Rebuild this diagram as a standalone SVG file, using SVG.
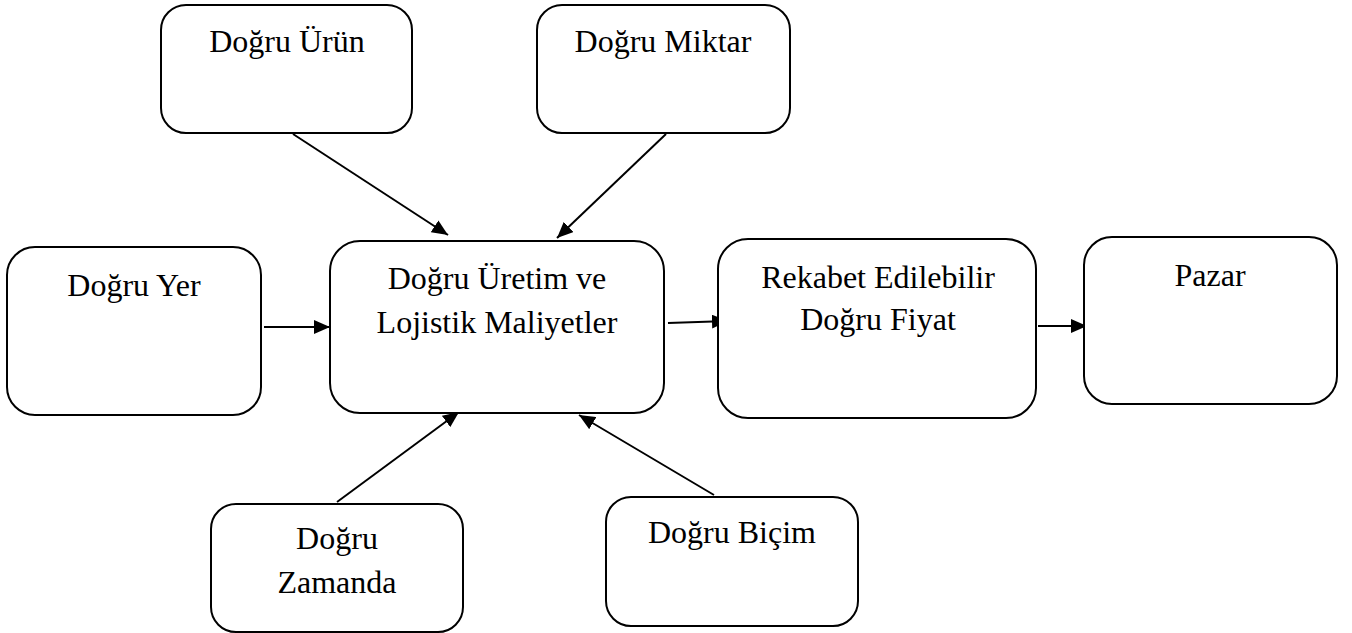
<svg xmlns="http://www.w3.org/2000/svg" width="1352" height="633" viewBox="0 0 1352 633">
<style>
.box{fill:#fff;stroke:#000;stroke-width:2}
.t{font-family:'Liberation Serif','DejaVu Serif',serif;font-size:32px;fill:#000;text-anchor:middle}
.c{stroke:#000;stroke-width:2;fill:none;marker-end:url(#ah)}
</style>
<defs>
<marker id="ah" viewBox="0 0 16 14" refX="16" refY="7" markerWidth="16" markerHeight="14" markerUnits="userSpaceOnUse" orient="auto">
<path d="M0,0 L16,7 L0,14 Z" fill="#000"/>
</marker>
</defs>
<rect width="1352" height="633" fill="#fff"/>
<g id="connectors">
<line class="c" x1="293" y1="134" x2="448" y2="235"/>
<line class="c" x1="666" y1="134" x2="557" y2="238"/>
<line class="c" x1="264" y1="327" x2="330" y2="327"/>
<line class="c" x1="668" y1="323" x2="728" y2="321"/>
<line class="c" x1="1038" y1="326" x2="1087" y2="326"/>
<line class="c" x1="337" y1="502" x2="459" y2="412"/>
<line class="c" x1="714" y1="495" x2="579" y2="415"/>
</g>
<g id="n-urun">
<rect class="box" x="161" y="5" width="251" height="128" rx="25"/>
<text class="t" x="287" y="52">Doğru Ürün</text>
</g>
<g id="n-miktar">
<rect class="box" x="537" y="5" width="253" height="128" rx="25"/>
<text class="t" x="663" y="52">Doğru Miktar</text>
</g>
<g id="n-yer">
<rect class="box" x="7" y="247" width="254" height="168" rx="28"/>
<text class="t" x="134" y="296">Doğru Yer</text>
</g>
<g id="n-merkez">
<rect class="box" x="330" y="241" width="334" height="172" rx="30"/>
<text class="t" x="497" y="289">Doğru Üretim ve</text>
<text class="t" x="497" y="333">Lojistik Maliyetler</text>
</g>
<g id="n-fiyat">
<rect class="box" x="718" y="239" width="318" height="179" rx="30"/>
<text class="t" x="878" y="288">Rekabet Edilebilir</text>
<text class="t" x="878" y="330">Doğru Fiyat</text>
</g>
<g id="n-pazar">
<rect class="box" x="1084" y="237" width="253" height="167" rx="28"/>
<text class="t" x="1210" y="286">Pazar</text>
</g>
<g id="n-zaman">
<rect class="box" x="211" y="504" width="252" height="128" rx="25"/>
<text class="t" x="337" y="549">Doğru</text>
<text class="t" x="337" y="593">Zamanda</text>
</g>
<g id="n-bicim">
<rect class="box" x="606" y="497" width="252" height="129" rx="25"/>
<text class="t" x="732" y="543">Doğru Biçim</text>
</g>
</svg>
